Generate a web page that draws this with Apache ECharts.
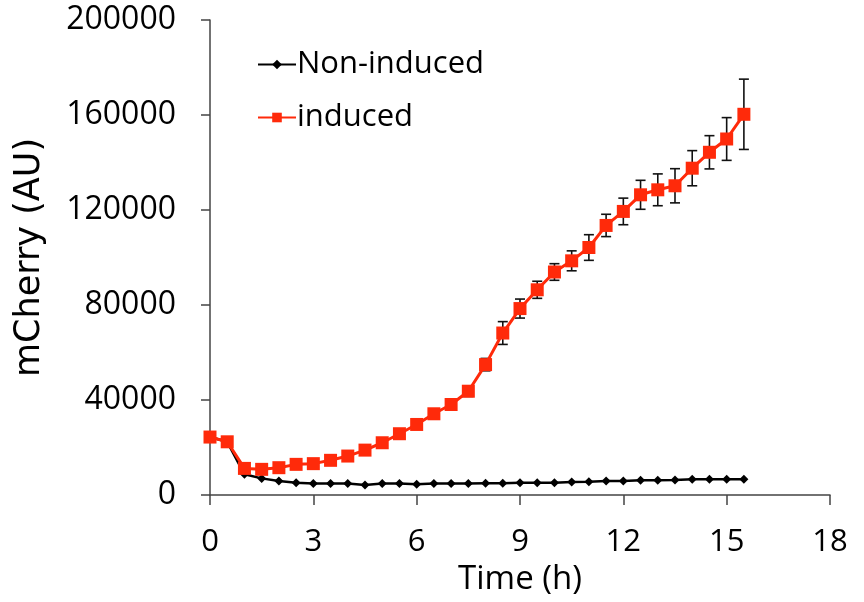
<!DOCTYPE html>
<html lang="en">
<head>
    <meta charset="UTF-8">
    <script src="https://cdn.jsdelivr.net/npm/echarts@6/dist/echarts.min.js"></script>
    <title>mCherry time course</title>
</head>
<body>
    <style>
        html, body, #main {
            margin: 0;
            width: 864px;
            height: 602px;
            background: #fff;
        }
    </style>
    <div id="main"></div>
    <script>
        // time points (h)
        var hours = [0, 0.5, 1, 1.5, 2, 2.5, 3, 3.5, 4, 4.5, 5, 5.5, 6, 6.5, 7, 7.5,
                     8, 8.5, 9, 9.5, 10, 10.5, 11, 11.5, 12, 12.5, 13, 13.5, 14, 14.5, 15, 15.5];
        var nonInduced = [24400, 22400, 8700, 7000, 5900, 5200, 4800, 4800, 4800, 4200, 4800, 4800,
                          4500, 4800, 4800, 4800, 4900, 4900, 5200, 5200, 5200, 5500, 5600, 5900,
                          5900, 6200, 6200, 6300, 6600, 6600, 6600, 6600];
        var induced = [24400, 22400, 11200, 10800, 11500, 12900, 13200, 14600, 16400, 18900, 22000, 25800,
                       29700, 34200, 38100, 43700, 54900, 68200, 78500, 86400, 93900, 98600, 104200, 113500,
                       119400, 126400, 128500, 130200, 137600, 144300, 149900, 160300];
        var inducedErr = [600, 600, 600, 600, 600, 700, 700, 800, 800, 900, 1000, 1200,
                          1500, 1500, 1600, 2200, 2600, 4800, 4000, 3600, 3500, 4200, 5400, 4700,
                          5600, 6100, 6700, 7200, 7400, 7000, 9000, 14800];
        var xTicks = { min: 0, max: 18, interval: 3 };
        var yTicks = { min: 0, max: 200000, interval: 40000 };

        var chart = echarts.init(document.getElementById('main'));

        var errData = hours.map(function (h, i) {
            return [h, induced[i] - inducedErr[i], induced[i] + inducedErr[i]];
        });

        chart.setOption({
            backgroundColor: '#fff',
            animation: false,
            grid: { left: 210, right: 34, top: 20, bottom: 107 },
            legend: {
                orient: 'vertical',
                left: 252,
                top: 44,
                itemGap: 22,
                itemWidth: 38,
                itemHeight: 12,
                textStyle: { fontFamily: 'Open Sans', fontSize: 31, color: '#000', padding: [0, 0, 0, -4] },
                data: ['Non-induced', 'induced']
            },
            xAxis: {
                type: 'value',
                min: xTicks.min, max: xTicks.max, interval: xTicks.interval,
                name: 'Time (h)',
                nameLocation: 'middle',
                nameGap: 68,
                nameTextStyle: { fontFamily: 'Open Sans', fontSize: 33, color: '#000' },
                axisLine: { lineStyle: { color: '#444', width: 1.5 } },
                axisTick: { inside: false, length: 10, lineStyle: { color: '#444', width: 1.5 } },
                axisLabel: { fontFamily: 'Open Sans', fontSize: 31, color: '#000', margin: 32 },
                splitLine: { show: false }
            },
            yAxis: {
                type: 'value',
                min: yTicks.min, max: yTicks.max, interval: yTicks.interval,
                name: 'mCherry (AU)',
                nameLocation: 'middle',
                nameGap: 163,
                nameTextStyle: { fontFamily: 'DejaVu Sans', fontSize: 35, color: '#000' },
                axisLine: { show: true, lineStyle: { color: '#444', width: 1.5 } },
                axisTick: { show: true, inside: false, length: 9, lineStyle: { color: '#444', width: 1.5 } },
                axisLabel: {
                    fontFamily: 'Open Sans', fontSize: 32, color: '#000', margin: 34,
                    formatter: function (v) { return String(v); }
                },
                splitLine: { show: false }
            },
            series: [
                {
                    name: 'Non-induced',
                    type: 'line',
                    data: hours.map(function (h, i) { return [h, nonInduced[i]]; }),
                    symbol: 'diamond',
                    symbolSize: 9,
                    itemStyle: { color: '#000' },
                    lineStyle: { color: '#000', width: 2.5 },
                    z: 2
                },
                {
                    name: 'err',
                    type: 'custom',
                    data: errData,
                    renderItem: function (params, api) {
                        var x = api.value(0);
                        var lo = api.coord([x, api.value(1)]);
                        var hi = api.coord([x, api.value(2)]);
                        var w = 5;
                        var st = { stroke: '#111', lineWidth: 1.6 };
                        return {
                            type: 'group',
                            children: [
                                { type: 'line', shape: { x1: lo[0], y1: lo[1], x2: hi[0], y2: hi[1] }, style: st },
                                { type: 'line', shape: { x1: lo[0] - w, y1: lo[1], x2: lo[0] + w, y2: lo[1] }, style: st },
                                { type: 'line', shape: { x1: hi[0] - w, y1: hi[1], x2: hi[0] + w, y2: hi[1] }, style: st }
                            ]
                        };
                    },
                    z: 3
                },
                {
                    name: 'induced',
                    type: 'line',
                    data: hours.map(function (h, i) { return [h, induced[i]]; }),
                    symbol: 'rect',
                    symbolSize: 13,
                    itemStyle: { color: '#ff2a0a' },
                    lineStyle: { color: '#ff2a0a', width: 3 },
                    z: 4
                }
            ]
        });
    </script>
</body>
</html>
